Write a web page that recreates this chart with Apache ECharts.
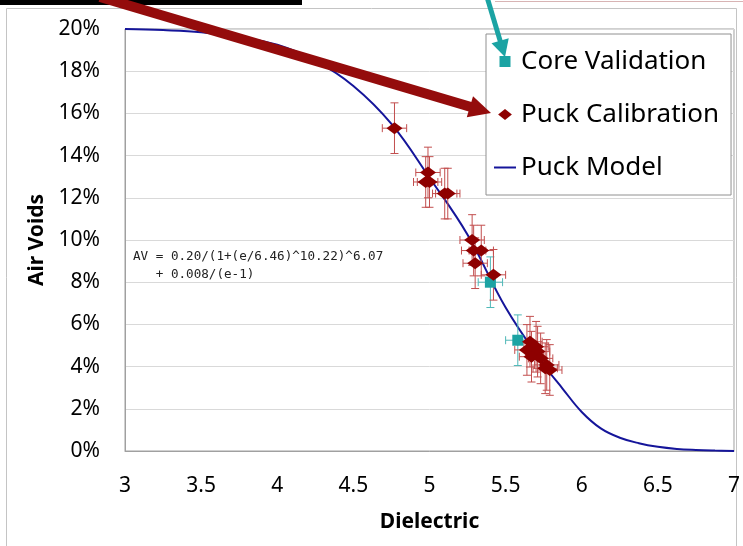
<!DOCTYPE html>
<html><head><meta charset="utf-8">
<script src="https://cdn.jsdelivr.net/npm/echarts@6/dist/echarts.min.js"></script>
<style>html,body{margin:0;padding:0;background:#fff}#c{width:743px;height:546px}</style>
</head><body><div id="c"></div>
<script>
// Puck Model curve
const modelX = [3, 3.25, 3.5, 3.75, 4, 4.25, 4.5, 4.75, 5, 5.25, 5.5, 5.75, 5.875, 6, 6.125, 6.25, 6.375, 6.5, 6.625, 6.75, 6.875, 7];
const modelY = [0.200, 0.1995, 0.1985, 0.1962, 0.1925, 0.185, 0.173, 0.155, 0.1295, 0.1025, 0.068, 0.041, 0.0295, 0.0185, 0.0107, 0.0063, 0.0037, 0.0020, 0.0010, 0.0005, 0.0002, 0.0];
// Puck Calibration points
const calibX = [4.77, 4.99, 4.975, 5.00, 5.10, 5.12, 5.28, 5.29, 5.34, 5.30, 5.42, 5.66, 5.70, 5.64, 5.71, 5.67, 5.73, 5.77, 5.76, 5.79];
const calibY = [0.153, 0.132, 0.1275, 0.1275, 0.122, 0.122, 0.100, 0.095, 0.095, 0.089, 0.0835, 0.0518, 0.0494, 0.0479, 0.0471, 0.0447, 0.0439, 0.0408, 0.0392, 0.0384];
// Core Validation points
const coreX = [5.40, 5.58];
const coreY = [0.080, 0.0525];
// Error bar half-widths
const calibErrX = 0.08, calibErrY = 0.012;
const coreErrX = 0.08, coreErrY = 0.012;
// Axis ticks
const xMin = 3, xMax = 7, xStep = 0.5;
const yMin = 0, yMax = 0.20, yStep = 0.02;

const FONT = '"Noto Sans", "Open Sans", sans-serif';
const DARKRED = '#8e0000';
const TEAL = '#1ba3a3';
const NAVY = '#15159a';

function zip(a, b) { return a.map((v, i) => [v, b[i]]); }

function errBars(ex, ey, color) {
  return function (params, api) {
    const x = api.value(0), y = api.value(1);
    const t = api.coord([x, y + ey]), b = api.coord([x, y - ey]);
    const l = api.coord([x - ex, y]), r = api.coord([x + ex, y]);
    const cap = 4;
    const style = { stroke: color, lineWidth: 1, fill: null };
    const L = (x1, y1, x2, y2) => ({ type: 'line', shape: { x1, y1, x2, y2 }, style });
    return { type: 'group', children: [
      L(t[0], t[1], b[0], b[1]),
      L(t[0] - cap, t[1], t[0] + cap, t[1]),
      L(b[0] - cap, b[1], b[0] + cap, b[1]),
      L(l[0], l[1], r[0], r[1]),
      L(l[0], l[1] - cap, l[0], l[1] + cap),
      L(r[0], r[1] - cap, r[0], r[1] + cap)
    ]};
  };
}

const chart = echarts.init(document.getElementById('c'), null, { renderer: 'canvas' });

function arrow(x0, y0, tx, ty, headLen, headHalf, width, color) {
  const dx = tx - x0, dy = ty - y0, len = Math.hypot(dx, dy);
  const ux = dx / len, uy = dy / len, px = -uy, py = ux;
  const bx = tx - ux * headLen, by = ty - uy * headLen;
  return [
    { type: 'line', z: 100, silent: true, shape: { x1: x0, y1: y0, x2: bx + ux * 2, y2: by + uy * 2 }, style: { stroke: color, lineWidth: width } },
    { type: 'polygon', z: 100, silent: true, shape: { points: [[tx, ty], [bx + px * headHalf, by + py * headHalf], [bx - px * headHalf, by - py * headHalf]] }, style: { fill: color } }
  ];
}

chart.setOption({
  animation: false,
  backgroundColor: '#fff',
  textStyle: { fontFamily: FONT },
  grid: { left: 125, right: 8, top: 29, bottom: 95, show: true, borderColor: '#a0a0a0', borderWidth: 1, backgroundColor: 'transparent' },
  xAxis: {
    type: 'value', min: xMin, max: xMax, interval: xStep,
    name: 'Dielectric', nameLocation: 'middle', nameGap: 61,
    nameTextStyle: { fontFamily: FONT, fontSize: 21, fontWeight: 'bold', color: '#000' },
    axisLine: { show: true, lineStyle: { color: '#a0a0a0' } },
    axisTick: { show: false },
    splitLine: { show: false },
    axisLabel: { fontFamily: FONT, fontSize: 21, color: '#000', margin: 25, formatter: v => String(v) }
  },
  yAxis: {
    type: 'value', min: yMin, max: yMax, interval: yStep,
    name: 'Air Voids', nameLocation: 'middle', nameGap: 76, nameRotate: 90,
    nameTextStyle: { fontFamily: FONT, fontSize: 21, fontWeight: 'bold', color: '#000' },
    axisLine: { show: true, lineStyle: { color: '#a0a0a0' } },
    axisTick: { show: false },
    splitLine: { show: true, lineStyle: { color: '#d9d9d9', width: 1 } },
    axisLabel: { fontFamily: FONT, fontSize: 21, color: '#000', margin: 25, formatter: v => Math.round(v * 100) + '%' }
  },
  legend: {
    orient: 'vertical', left: 486, top: 34,
    padding: [12, 12, 12, 8],
    itemWidth: 22, itemHeight: 11, itemGap: 22,
    backgroundColor: '#fff', borderColor: '#909090', borderWidth: 1,
    textStyle: { fontFamily: FONT, fontSize: 26, color: '#000', lineHeight: 31 },
    data: [
      { name: 'Core Validation', icon: 'path://M0,0H10V10H0Z' },
      { name: 'Puck Calibration', icon: 'path://M0,4L5,0L10,4L5,8Z' },
      { name: 'Puck Model', icon: 'path://M0,0H22V2H0Z' }
    ]
  },
  series: [
    { name: 'Puck Model', type: 'line', data: zip(modelX, modelY), smooth: 0.4, showSymbol: false, symbol: 'none',
      lineStyle: { color: NAVY, width: 2 }, itemStyle: { color: NAVY }, z: 2 },
    { name: 'Core Validation err', type: 'custom', data: zip(coreX, coreY), renderItem: errBars(coreErrX, coreErrY, '#4fb8b8'), z: 3, silent: true },
    { name: 'Puck Calibration err', type: 'custom', data: zip(calibX, calibY), renderItem: errBars(calibErrX, calibErrY, '#c24e4e'), z: 3, silent: true },
    { name: 'Core Validation', type: 'scatter', data: zip(coreX, coreY), symbol: 'rect', symbolSize: 11,
      itemStyle: { color: TEAL, opacity: 1 }, z: 4 },
    { name: 'Puck Calibration', type: 'scatter', data: zip(calibX, calibY), symbol: 'diamond', symbolSize: [16, 12],
      itemStyle: { color: DARKRED, opacity: 1 }, z: 5 }
  ],
  graphic: [
    { type: 'rect', z: 0, silent: true, shape: { x: 6.5, y: 8.5, width: 730, height: 560 }, style: { fill: null, stroke: '#c4c4c4', lineWidth: 1 } },
    { type: 'line', z: 0, silent: true, shape: { x1: 495, y1: 1.5, x2: 743, y2: 1.5 }, style: { stroke: '#d8b4b4', lineWidth: 1 } },
    { type: 'rect', z: 100, silent: true, shape: { x: 0, y: 0, width: 302, height: 5 }, style: { fill: '#000' } },
    { type: 'text', z: 50, left: 133, top: 248, silent: true,
      style: { text: 'AV = 0.20/(1+(e/6.46)^10.22)^6.07\n   + 0.008/(e-1)', font: '12.6px "DejaVu Sans Mono", monospace', fill: '#222', lineHeight: 18 } },
    ...arrow(100, -3, 491, 113, 22, 11, 10, '#940c0c'),
    ...arrow(487, -3, 505, 57, 17, 9, 5, TEAL)
  ]
});
</script>
</body></html>
